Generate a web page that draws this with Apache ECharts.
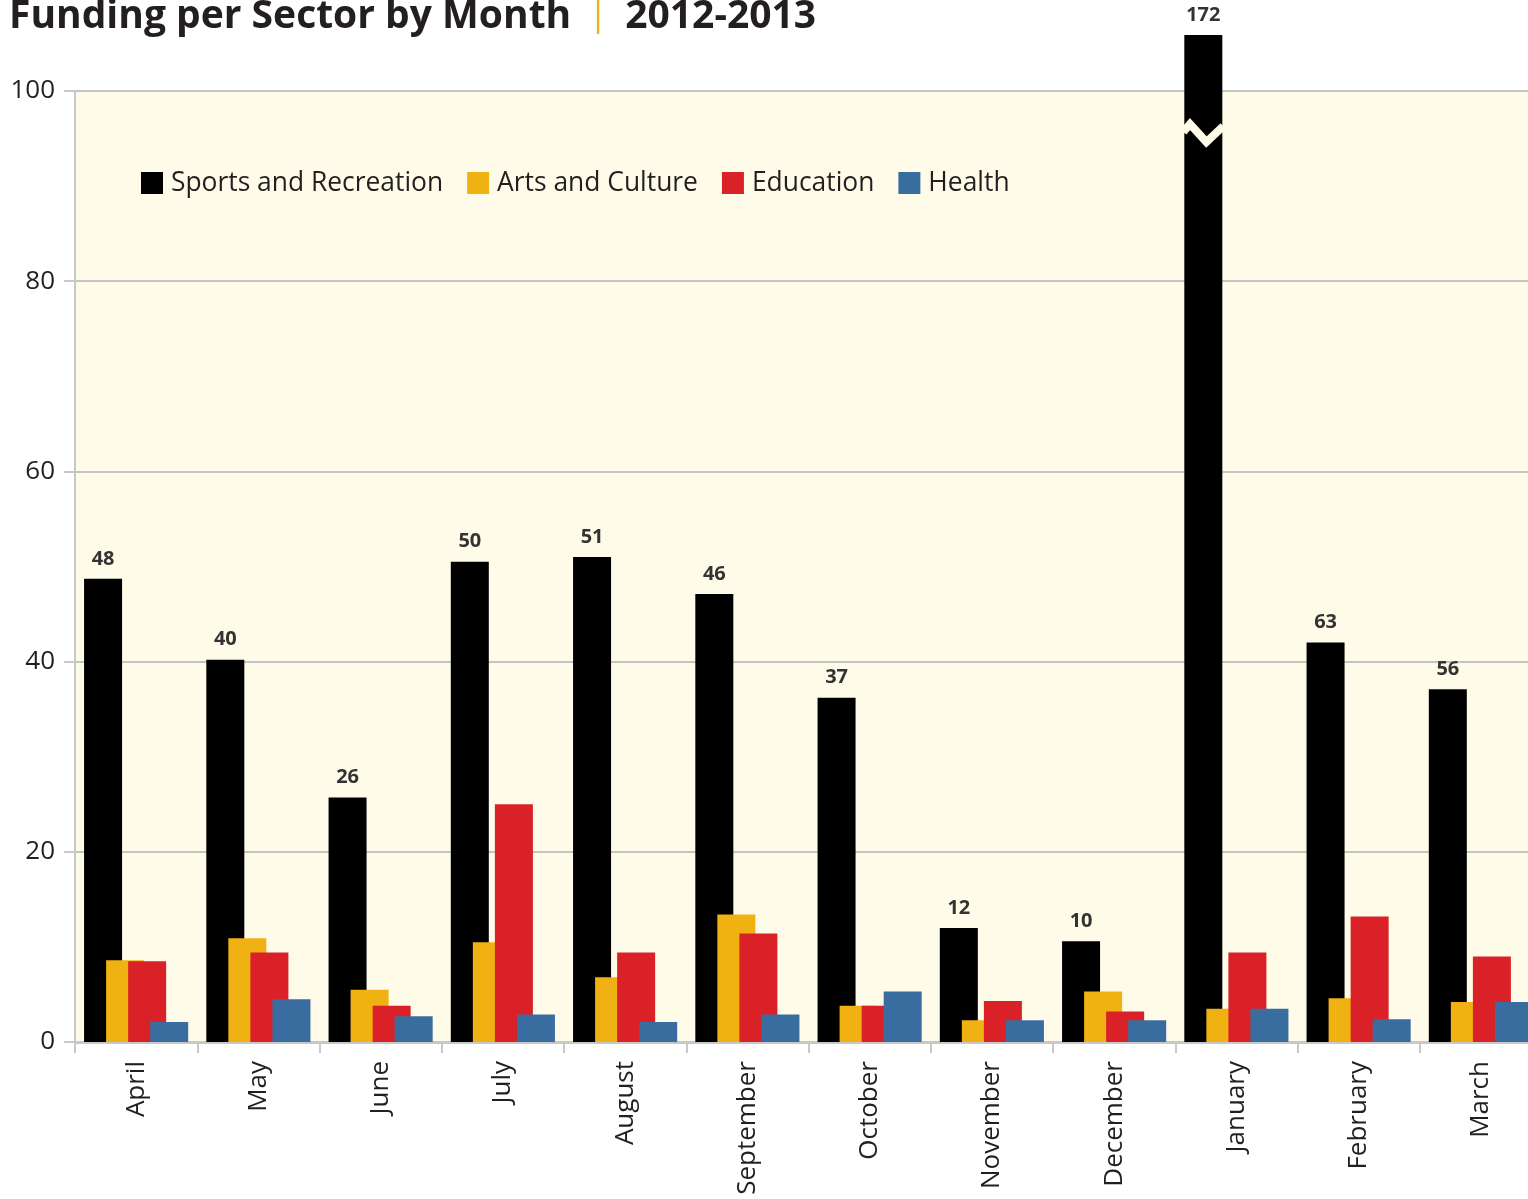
<!DOCTYPE html>
<html>
<head>
<meta charset="utf-8">
<script src="https://cdn.jsdelivr.net/npm/echarts@6/dist/echarts.min.js"></script>
<style>
html,body{margin:0;padding:0;background:#fff;}
#chart{width:1528px;height:1199px;}
</style>
</head>
<body>
<div id="chart"></div>
<script>
const categories = ['April','May','June','July','August','September','October','November','December','January','February','March'];
const seriesNames = ['Sports and Recreation','Arts and Culture','Education','Health'];
// Bar heights as drawn (January is a broken bar drawn past the top)
const sportsValues = [48.7, 40.2, 25.7, 50.5, 51.0, 47.1, 36.2, 12.0, 10.6, 105.9, 42.0, 37.1];
// Printed value labels on the Sports bars
const sportsLabels = [48, 40, 26, 50, 51, 46, 37, 12, 10, 172, 63, 56];
const artsValues = [8.6, 10.9, 5.5, 10.5, 6.8, 13.4, 3.8, 2.3, 5.3, 3.5, 4.6, 4.2];
const educationValues = [8.5, 9.4, 3.8, 25.0, 9.4, 11.4, 3.8, 4.3, 3.2, 9.4, 13.2, 9.0];
const healthValues = [2.1, 4.5, 2.7, 2.9, 2.1, 2.9, 5.3, 2.3, 2.3, 3.5, 2.4, 4.2];
const yTicks = {min: 0, max: 100, interval: 20};
const brokenIndex = 9;
const breakValue = 96;

const colors = ['#000000', '#F0B112', '#DA2128', '#3A6D9F'];
const FONT = '"Open Sans", "Noto Sans", sans-serif';
const textColor = '#231F20';

const chart = echarts.init(document.getElementById('chart'), null, {renderer: 'canvas'});

function barSeries(name, data, color, extra) {
  return Object.assign({
    name: name,
    type: 'bar',
    data: data,
    barWidth: 38,
    barGap: '-42%',
    itemStyle: {color: color},
    emphasis: {disabled: true},
    animation: false
  }, extra || {});
}

const option = {
  animation: false,
  color: colors,
  title: {
    text: '{a|Funding per Sector by Month}{b|  |  }{a|2012-2013}',
    left: 9,
    top: -3,
    padding: 0,
    textStyle: {
      rich: {
        a: {fontFamily: FONT, fontWeight: 'bold', fontSize: 39, color: textColor},
        b: {fontFamily: FONT, fontWeight: 'normal', fontSize: 34, color: '#F0B112'}
      }
    }
  },
  legend: {
    left: 141,
    top: 170,
    padding: 0,
    itemWidth: 22,
    itemHeight: 22,
    itemGap: 24,
    icon: 'rect',
    textStyle: {fontFamily: FONT, fontSize: 26.4, color: textColor, padding: [0, 0, 0, 3]},
    data: seriesNames
  },
  grid: {
    left: 75,
    top: 91,
    width: 1467,
    height: 951,
    show: true,
    backgroundColor: '#FEFBE8',
    borderWidth: 0,
    containLabel: false,
    outerBoundsMode: 'none'
  },
  xAxis: {
    type: 'category',
    data: categories,
    axisLine: {show: true, lineStyle: {color: '#C8C8C8', width: 3}},
    axisTick: {show: true, length: 11, lineStyle: {color: '#C8C8C8', width: 2}},
    axisLabel: {rotate: 90, fontFamily: FONT, fontSize: 26, color: textColor, margin: 19}
  },
  yAxis: {
    type: 'value',
    min: yTicks.min,
    max: yTicks.max,
    interval: yTicks.interval,
    axisLine: {show: true, lineStyle: {color: '#C8C8C8', width: 2}},
    axisTick: {show: true, length: 11, lineStyle: {color: '#C8C8C8', width: 2}},
    splitLine: {show: true, lineStyle: {color: '#C4C4C4', width: 2}},
    axisLabel: {fontFamily: FONT, fontSize: 26, color: textColor, margin: 20}
  },
  series: [
    barSeries(seriesNames[0], sportsValues, colors[0], {
      clip: false,
      label: {
        show: true,
        position: 'top',
        distance: 10,
        fontFamily: FONT,
        fontWeight: 'bold',
        fontSize: 20,
        color: '#333333',
        formatter: p => String(sportsLabels[p.dataIndex])
      }
    }),
    barSeries(seriesNames[1], artsValues, colors[1]),
    barSeries(seriesNames[2], educationValues, colors[2]),
    barSeries(seriesNames[3], healthValues, colors[3])
  ]
};

chart.setOption(option);

// Break mark on the January bar, positioned from the bar's own layout
function drawBreak() {
  const data = chart.getModel().getSeriesByIndex(0).getData();
  const lay = data.getItemLayout(brokenIndex);
  const x0 = Math.min(lay.x, lay.x + lay.width);
  const w = Math.abs(lay.width);
  const yb = chart.convertToPixel({yAxisIndex: 0}, breakValue);
  chart.setOption({
    graphic: [{
      type: 'polyline',
      z: 100,
      shape: {points: [
        [x0 - 1, yb + 3],
        [x0 + w * 0.15, yb - 5],
        [x0 + w * 0.58, yb + 13],
        [x0 + w + 1, yb - 3]
      ]},
      style: {stroke: '#FEFBE8', lineWidth: 8, fill: null, lineJoin: 'miter'}
    }]
  });
}
drawBreak();
</script>
</body>
</html>
